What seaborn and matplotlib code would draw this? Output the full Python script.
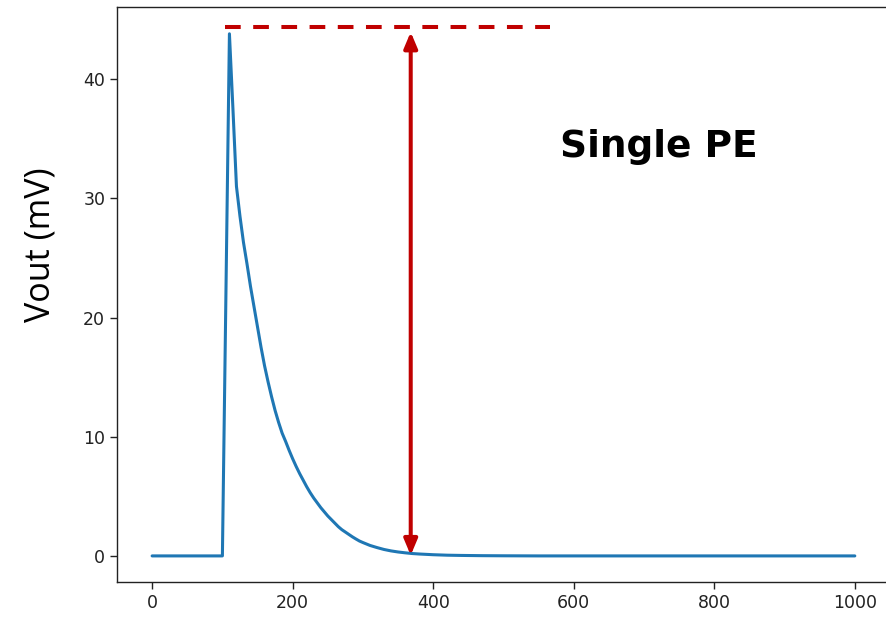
import matplotlib
matplotlib.use("Agg")
import matplotlib.pyplot as plt
import seaborn as sns
import pandas as pd

# Data
time_ns = [0, 100, 110, 115, 120, 125, 130, 135, 140, 145, 150, 155, 160, 165,
           170, 175, 180, 185, 190, 195, 200, 205, 210, 215, 220, 225, 230,
           235, 240, 245, 250, 255, 260, 265, 270, 275, 280, 285, 290, 295,
           300, 310, 320, 330, 340, 350, 360, 370, 380, 400, 420, 440, 470,
           500, 550, 1000]
vout_mv = [0.0, 0.0, 43.8, 37.5, 31.0, 28.5, 26.3, 24.5, 22.6, 20.9, 19.2,
           17.5, 15.95, 14.6, 13.35, 12.2, 11.2, 10.3, 9.6, 8.85, 8.15, 7.5,
           6.9, 6.35, 5.8, 5.3, 4.85, 4.45, 4.05, 3.7, 3.35, 3.05, 2.75, 2.45,
           2.2, 2.0, 1.8, 1.6, 1.42, 1.25, 1.12, 0.88, 0.7, 0.54, 0.42, 0.33,
           0.26, 0.2, 0.16, 0.1, 0.06, 0.04, 0.02, 0.01, 0.0, 0.0]
xticks = [0, 200, 400, 600, 800, 1000]
yticks = [0, 10, 20, 30, 40]
label_text = "Single PE"
ylabel_text = "Vout (mV)"
peak_value = 44.35
arrow_x = 368
dash_x = [104, 566]

sns.set_style("ticks")
plt.rcParams["font.family"] = ["DejaVu Sans"]

df = pd.DataFrame({"t": time_ns, "v": vout_mv})

fig = plt.figure(figsize=(8.87, 6.17), dpi=100)
# axes extends past the right edge of the figure (right spine cropped, as in reference)
ax = fig.add_axes([0.1319, 0.0567, 0.9245, 0.932])

sns.lineplot(data=df, x="t", y="v", ax=ax, color="#1f77b4", linewidth=2.2,
             estimator=None, sort=False)
ax.set_xlim(-50, 1117)
ax.set_ylim(-2.19, 46.05)
ax.set_xticks(xticks)
ax.set_yticks(yticks)
ax.tick_params(labelsize=12.5, length=5, width=1.0, colors="#222222")
for s in ax.spines.values():
    s.set_color("#222222")
    s.set_linewidth(1.0)
ax.spines["right"].set_visible(False)
ax.set_xlabel("")
ax.set_ylabel("")

# dashed peak line
ax.plot(dash_x, [peak_value, peak_value], color="#C00000", linewidth=2.9,
        linestyle=(0, (3.9, 3.1)), solid_capstyle="butt", dash_capstyle="butt")

# double-headed arrow
ax.annotate("", xy=(arrow_x, 0.05), xytext=(arrow_x, 43.95),
            arrowprops=dict(arrowstyle="<|-|>,head_length=0.95,head_width=0.4",
                            color="#C00000", linewidth=2.9,
                            shrinkA=0, shrinkB=0))

fig.text(0.743, 0.762, label_text, fontsize=27, fontweight="bold",
         family=["DejaVu Sans"], ha="center", va="center", color="black")
fig.text(0.046, 0.603, ylabel_text, fontsize=24.5, rotation=90,
         family=["Open Sans", "DejaVu Sans"], ha="center", va="center", color="black")

fig.savefig("out.png", dpi=100)
